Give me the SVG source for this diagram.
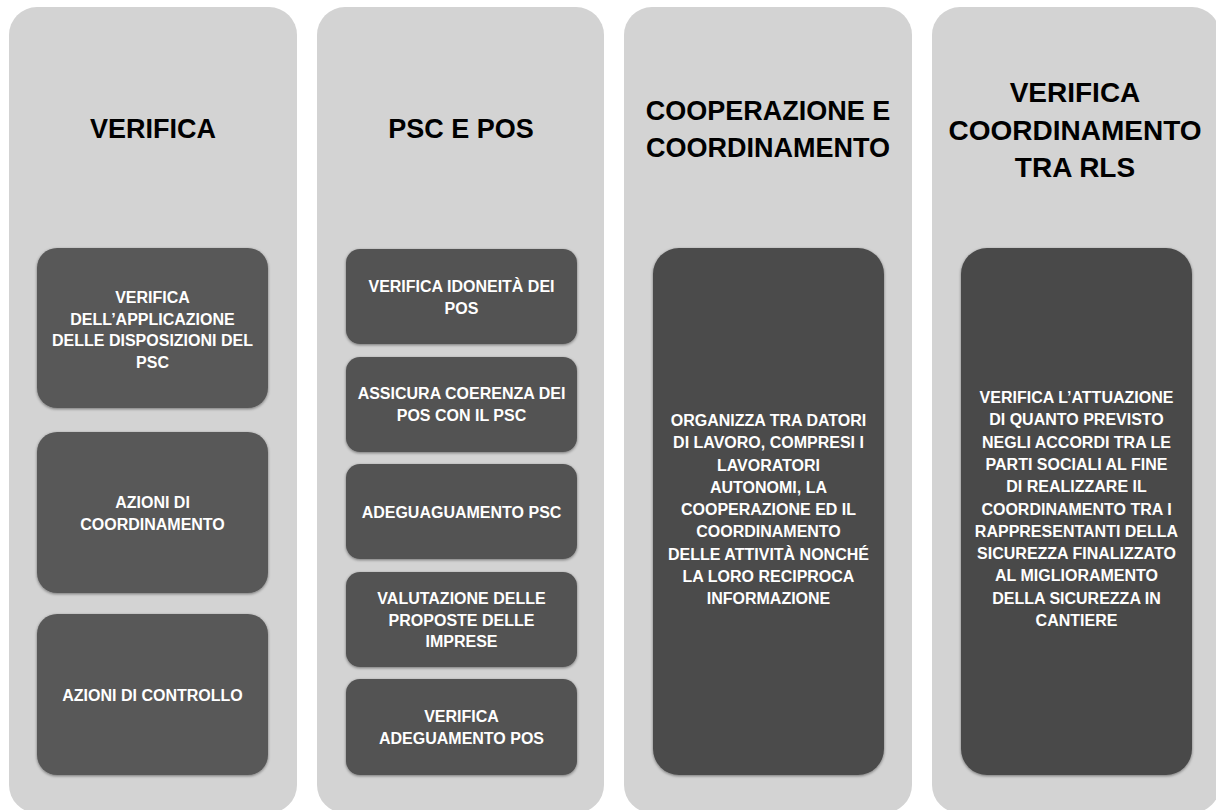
<svg xmlns="http://www.w3.org/2000/svg" width="1216" height="810" viewBox="0 0 1216 810">
<defs>
<filter id="sh" x="-10%" y="-10%" width="120%" height="120%">
<feDropShadow dx="0" dy="1" stdDeviation="1.8" flood-color="#000" flood-opacity="0.45"/>
</filter>
<style>
.col{fill:#d3d3d3;}
.box{filter:url(#sh);}
.b1{fill:#595959;}
.b2{fill:#535353;}
.b3{fill:#4c4c4c;}
.b4{fill:#4a4a4a;}
.title{font-family:"Liberation Sans",Arial,sans-serif;font-weight:bold;font-size:27px;fill:#000;text-anchor:middle;}
.t{font-family:"Liberation Sans",Arial,sans-serif;font-weight:bold;font-size:16px;fill:#fff;text-anchor:middle;}
</style>
</defs>
<rect width="1216" height="810" fill="#ffffff"/>

<g id="col-verifica">
<rect class="col" x="9" y="7" width="288" height="806" rx="28"/>
<text class="title" x="153" y="138">VERIFICA</text>
</g>
<g id="col-psc-pos">
<rect class="col" x="317" y="7" width="287" height="806" rx="28"/>
<text class="title" x="461" y="138">PSC E POS</text>
</g>
<g id="col-cooperazione">
<rect class="col" x="624" y="7" width="288" height="806" rx="28"/>
<text class="title" x="768" y="120">COOPERAZIONE E</text>
<text class="title" x="768" y="157">COORDINAMENTO</text>
</g>
<g id="col-rls">
<rect class="col" x="932" y="7" width="288" height="806" rx="28"/>
<text class="title" x="1075" y="102" style="font-size:28px">VERIFICA</text>
<text class="title" x="1075" y="140" style="font-size:28px">COORDINAMENTO</text>
<text class="title" x="1075" y="177" style="font-size:28px">TRA RLS</text>
</g>

<g id="v1">
<rect class="box b1" x="37" y="248" width="231" height="160" rx="20"/>
<text class="t" x="152.5" y="303">VERIFICA</text>
<text class="t" x="152.5" y="324.5">DELL’APPLICAZIONE</text>
<text class="t" x="152.5" y="346">DELLE DISPOSIZIONI DEL</text>
<text class="t" x="152.5" y="367.5">PSC</text>
</g>
<g id="v2">
<rect class="box b1" x="37" y="432" width="231" height="161" rx="20"/>
<text class="t" x="152.5" y="508">AZIONI DI</text>
<text class="t" x="152.5" y="529.5">COORDINAMENTO</text>
</g>
<g id="v3">
<rect class="box b1" x="37" y="614" width="231" height="161" rx="20"/>
<text class="t" x="152.5" y="701">AZIONI DI CONTROLLO</text>
</g>

<g id="p1">
<rect class="box b2" x="346" y="249" width="231" height="95" rx="14"/>
<text class="t" x="461.5" y="292">VERIFICA IDONEITÀ DEI</text>
<text class="t" x="461.5" y="313.5">POS</text>
</g>
<g id="p2">
<rect class="box b2" x="346" y="357" width="231" height="95" rx="14"/>
<text class="t" x="461.5" y="399">ASSICURA COERENZA DEI</text>
<text class="t" x="461.5" y="420.5">POS CON IL PSC</text>
</g>
<g id="p3">
<rect class="box b2" x="346" y="464" width="231" height="95" rx="14"/>
<text class="t" x="461.5" y="518">ADEGUAGUAMENTO PSC</text>
</g>
<g id="p4">
<rect class="box b2" x="346" y="572" width="231" height="95" rx="14"/>
<text class="t" x="461.5" y="604">VALUTAZIONE DELLE</text>
<text class="t" x="461.5" y="625.5">PROPOSTE DELLE</text>
<text class="t" x="461.5" y="647">IMPRESE</text>
</g>
<g id="p5">
<rect class="box b2" x="346" y="679" width="231" height="96" rx="14"/>
<text class="t" x="461.5" y="722">VERIFICA</text>
<text class="t" x="461.5" y="743.5">ADEGUAMENTO POS</text>
</g>

<g id="c1">
<rect class="box b3" x="653" y="248" width="231" height="527" rx="26"/>
<text class="t" x="768.5" y="426">ORGANIZZA TRA DATORI</text>
<text class="t" x="768.5" y="448.25">DI LAVORO, COMPRESI I</text>
<text class="t" x="768.5" y="470.5">LAVORATORI</text>
<text class="t" x="768.5" y="492.75">AUTONOMI, LA</text>
<text class="t" x="768.5" y="515">COOPERAZIONE ED IL</text>
<text class="t" x="768.5" y="537.25">COORDINAMENTO</text>
<text class="t" x="768.5" y="559.5">DELLE ATTIVITÀ NONCHÉ</text>
<text class="t" x="768.5" y="581.75">LA LORO RECIPROCA</text>
<text class="t" x="768.5" y="604">INFORMAZIONE</text>
</g>

<g id="r1">
<rect class="box b4" x="961" y="248" width="231" height="527" rx="26"/>
<text class="t" x="1076.5" y="403">VERIFICA L’ATTUAZIONE</text>
<text class="t" x="1076.5" y="425.3">DI QUANTO PREVISTO</text>
<text class="t" x="1076.5" y="447.6">NEGLI ACCORDI TRA LE</text>
<text class="t" x="1076.5" y="469.9">PARTI SOCIALI AL FINE</text>
<text class="t" x="1076.5" y="492.2">DI REALIZZARE IL</text>
<text class="t" x="1076.5" y="514.5">COORDINAMENTO TRA I</text>
<text class="t" x="1076.5" y="536.8">RAPPRESENTANTI DELLA</text>
<text class="t" x="1076.5" y="559.1">SICUREZZA FINALIZZATO</text>
<text class="t" x="1076.5" y="581.4">AL MIGLIORAMENTO</text>
<text class="t" x="1076.5" y="603.7">DELLA SICUREZZA IN</text>
<text class="t" x="1076.5" y="626">CANTIERE</text>
</g>

<g id="connectors"></g>
</svg>
